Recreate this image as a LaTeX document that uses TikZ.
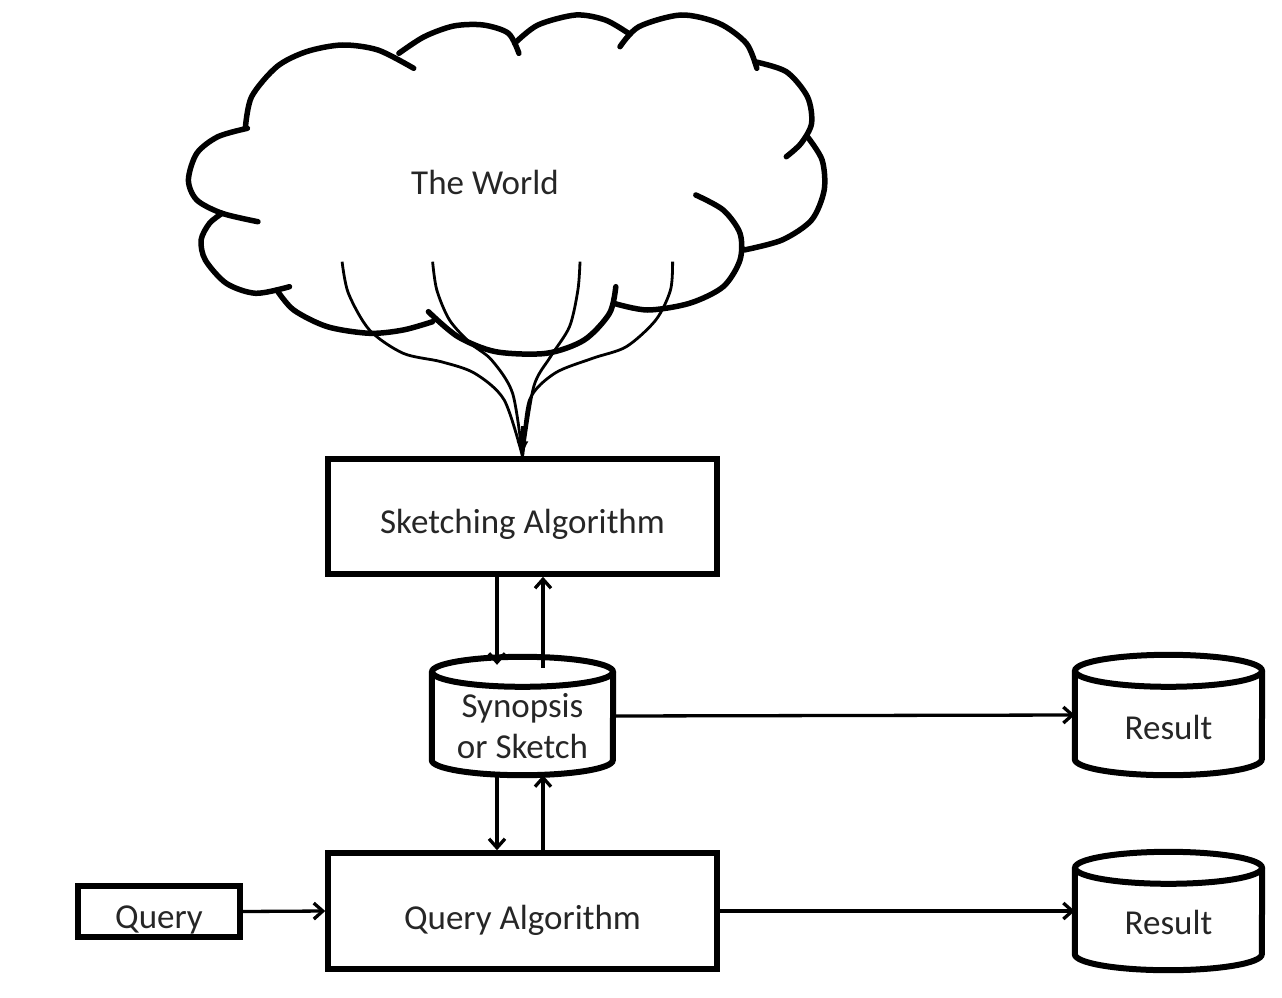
\documentclass[tikz,border=0pt]{standalone}
\usepackage{fontspec}
\setmainfont{Carlito}
\usetikzlibrary{arrows.meta}
\newcommand\lowr[2]{\raisebox{-#1}[\height][\depth]{#2}}
\tikzset{
  lbl/.style={font=\fontsize{35}{41}\selectfont, text=black!85, align=center, inner sep=0pt},
  boxnode/.style={lbl, draw, line width=5.5pt},
  cylnode/.style={lbl},
  cylline/.style={line width=6pt},
  conn/.style={line width=3.3pt, -{Straight Barb[length=9pt,width=16pt]}},
  cloudline/.style={line width=5.5pt, line cap=round},
  strand/.style={line width=2.8pt},
}
\begin{document}
\begin{tikzpicture}[x=1pt,y=-1pt]
\useasboundingbox (0,0) rectangle (1282,998);
% ---- cloud ----
\draw[cloudline] plot[smooth] coordinates {(245.3,128.3) (251.6,96.7) (276.8,66.7) (306.3,51.7) (342.1,45) (377.9,50) (413.7,68.3)};
\draw[cloudline] plot[smooth] coordinates {(398.9,53.3) (424.2,36.7) (453.7,26) (483.2,25) (508.4,33.3) (518.9,53.3)};
\draw[cloudline] plot[smooth] coordinates {(514.7,43.3) (537.9,25) (575.8,15) (605.3,20) (628.4,33.3)};
\draw[cloudline] plot[smooth] coordinates {(620,46.7) (638.9,26.7) (681,15) (718.9,23.3) (746.3,43.3) (756.8,68.3)};
\draw[cloudline] plot[smooth] coordinates {(754.7,61.7) (786.3,71.7) (807.4,96.7) (811.6,123.3) (801.1,143.3) (786.3,156.7)};
\draw[cloudline] plot[smooth] coordinates {(807.4,136.7) (822.1,160) (824.2,190) (811.6,220) (782.1,240) (744.2,250)};
\draw[cloudline] plot[smooth] coordinates {(695.8,195) (723.2,210) (740,233.3) (740,260) (723.2,286.7) (689.5,303.3) (647.4,310) (613.7,303.3)};
\draw[cloudline] plot[smooth] coordinates {(615.8,286.7) (609.5,313.3) (584.2,340) (546.3,353.3) (495.8,351.7) (457.9,336.7) (428.4,311.7)};
\draw[cloudline] plot[smooth] coordinates {(432.6,321.7) (403.2,330) (369.5,333.3) (327.4,326.7) (293.7,310) (276.8,290)};
\draw[cloudline] plot[smooth] coordinates {(289.5,286.7) (255.8,293.3) (226.3,283.3) (205.3,260) (201.1,240) (209.5,223.3) (222.1,213.3)};
\draw[cloudline] plot[smooth] coordinates {(257.9,221.7) (222.1,213.3) (196.8,200) (188.4,180) (196.8,153.3) (217.9,136.7) (247.4,128.3)};
\node[lbl] (world) at (485,182) {The World};
% ---- nodes ----
\node[boxnode, minimum width=389pt, minimum height=115pt] (sk) at (522.5,516.5) {\lowr{8pt}{Sketching Algorithm}};
\node[boxnode, minimum width=389pt, minimum height=116pt] (qa) at (522.5,911) {\lowr{9pt}{Query Algorithm}};
\node[boxnode, minimum width=162pt, minimum height=51pt] (q) at (159,911.5) {\lowr{8pt}{Query}};
\node[cylnode, minimum width=181pt, minimum height=118pt] (syn) at (522.5,716) {\lowr{10pt}{Synopsis}\\\lowr{10pt}{or Sketch}};
\node[cylnode, minimum width=187pt, minimum height=120pt] (r1) at (1168.5,715) {\lowr{12pt}{Result}};
\node[cylnode, minimum width=187pt, minimum height=118pt] (r2) at (1168.5,911) {\lowr{11pt}{Result}};
% cylinders
\draw[cylline] ([yshift=-15pt]syn.north west) -- ([yshift=15pt]syn.south west)
  arc[start angle=180, end angle=360, x radius=90.5pt, y radius=15pt] -- ([yshift=-15pt]syn.north east);
\draw[cylline] ([yshift=-15pt]syn.north) ellipse[x radius=90.5pt, y radius=15pt];
\draw[cylline] ([yshift=-16pt]r1.north west) -- ([yshift=16pt]r1.south west)
  arc[start angle=180, end angle=360, x radius=93.5pt, y radius=16pt] -- ([yshift=-16pt]r1.north east);
\draw[cylline] ([yshift=-16pt]r1.north) ellipse[x radius=93.5pt, y radius=16pt];
\draw[cylline] ([yshift=-16pt]r2.north west) -- ([yshift=16pt]r2.south west)
  arc[start angle=180, end angle=360, x radius=93.5pt, y radius=16pt] -- ([yshift=-16pt]r2.north east);
\draw[cylline] ([yshift=-16pt]r2.north) ellipse[x radius=93.5pt, y radius=16pt];
% ---- strands from the world ----
\coordinate (s1) at (342.1,261.7);
\coordinate (s2) at (432.6,261.7);
\coordinate (s3) at (580,261.7);
\coordinate (s4) at (672.6,261.7);
\draw[strand] plot[smooth] coordinates {(s1) (348.4,293.3) (369.5,330) (403.2,353.3) (441.1,361.7) (474.7,373.3) (504.2,400) (sk.north)};
\draw[strand] plot[smooth] coordinates {(s2) (436.8,290) (449.5,320) (470.5,343.3) (491.6,360) (512.6,393.3) (sk.north)};
\draw[strand] plot[smooth] coordinates {(s3) (577.9,290) (569.5,326.7) (550.5,356.7) (533.7,386.7) (sk.north)};
\draw[strand] plot[smooth] coordinates {(s4) (670.5,290) (655.8,320) (626.3,346.7) (592.6,358.3) (554.7,373.3) (529.5,400) (sk.north)};
\draw[strand, -{Latex[length=15pt,width=12pt]}] ([yshift=30pt]sk.north) -- (sk.north);
% ---- connectors ----
\draw[conn] ([xshift=-25.5pt]sk.south) -- ([xshift=-25.5pt,yshift=-8pt]syn.north);
\draw[conn] ([xshift=20.5pt,yshift=-11pt]syn.north) -- ([xshift=20.5pt]sk.south);
\draw[conn] ([xshift=-25.5pt]syn.south) -- ([xshift=-25.5pt]qa.north);
\draw[conn] ([xshift=20.5pt]qa.north) -- ([xshift=20.5pt]syn.south);
\draw[conn] (syn.east) -- (r1.west);
\draw[conn] (qa.east) -- (r2.west);
\draw[conn] (q.east) -- (qa.west);
\end{tikzpicture}
\end{document}
